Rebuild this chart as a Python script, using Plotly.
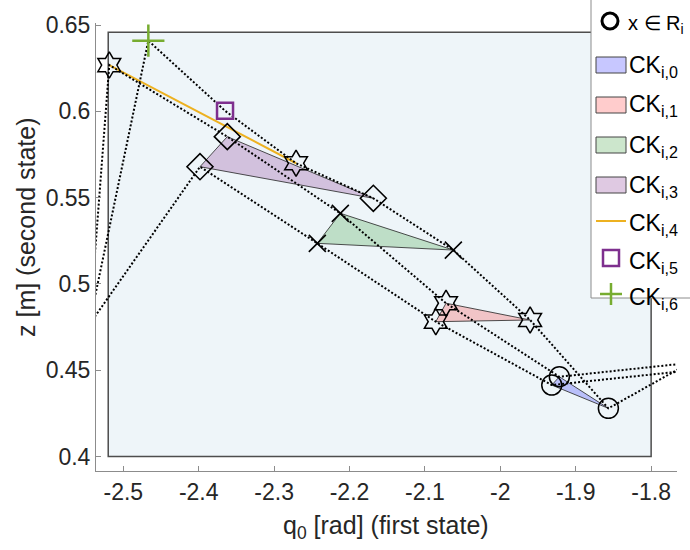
import plotly.graph_objects as go

# ---------------- data ----------------
# CK_{i,0}: states x in R_i (circles)
ck0_q = [-1.9217, -1.9318, -1.8567]
ck0_z = [0.4462, 0.4414, 0.4279]
# CK_{i,1} vertices (hexagrams)
ck1_q = [-2.0720, -2.0856, -1.9605]
ck1_z = [0.4888, 0.4781, 0.4791]
# CK_{i,2} vertices (x marks)
ck2_q = [-2.2122, -2.2427, -2.0623]
ck2_z = [0.5409, 0.5235, 0.5196]
# CK_{i,3} vertices (diamonds)
ck3_q = [-2.3621, -2.3983, -2.1684]
ck3_z = [0.5853, 0.5679, 0.5496]
# CK_{i,4} segment end points (hexagrams)
ck4_q = [-2.5186, -2.2709]
ck4_z = [0.6268, 0.5699]
# CK_{i,5} and CK_{i,6} single points
ck5_q = [-2.3651]
ck5_z = [0.6003]
ck6_q = [-2.4668]
ck6_z = [0.6409]

# dotted trajectories (first / last points lie outside the axes)
traj_a_q = [-2.55, -2.4668, -2.3651, -2.2709, -2.1684, -2.0623, -1.9605, -1.8567, -1.70]
traj_a_z = [0.4665, 0.6409, 0.6003, 0.5699, 0.5496, 0.5196, 0.4791, 0.4279, 0.4662]
traj_b_q = [-2.55, -2.5186, -2.3621, -2.2122, -2.0720, -1.9217, -1.70]
traj_b_z = [0.4460, 0.6268, 0.5853, 0.5409, 0.4888, 0.4462, 0.4565]
traj_c_q = [-2.55, -2.3983, -2.2427, -2.0856, -1.9318, -1.70]
traj_c_z = [0.4734, 0.5679, 0.5235, 0.4781, 0.4414, 0.4521]

# state-space box
box_q = [-2.52, -1.80]
box_z = [0.40, 0.6458]

# axes
x_range = [-2.53621, -1.76569]
y_range = [0.3916, 0.65116]
x_ticks = [-2.5, -2.4, -2.3, -2.2, -2.1, -2.0, -1.9, -1.8]
x_ticktext = ["-2.5", "-2.4", "-2.3", "-2.2", "-2.1", "-2", "-1.9", "-1.8"]
y_ticks = [0.4, 0.45, 0.5, 0.55, 0.6, 0.65]
y_ticktext = ["0.4", "0.45", "0.5", "0.55", "0.6", "0.65"]

legend_labels = ["x \u2208 R<sub>i</sub>", "CK<sub>i,0</sub>", "CK<sub>i,1</sub>", "CK<sub>i,2</sub>",
                 "CK<sub>i,3</sub>", "CK<sub>i,4</sub>", "CK<sub>i,5</sub>", "CK<sub>i,6</sub>"]

# ---------------- styling ----------------
FONT = "Liberation Sans, Arial, sans-serif"
W, H = 690, 550
ML, MR, MT, MB = 96, 13, 23, 79
PW, PH = W - ML - MR, H - MT - MB

fill_cols = ["rgba(0,0,255,0.22)", "rgba(255,0,0,0.2)", "rgba(0,128,0,0.2)", "rgba(128,40,140,0.25)"]
orange = "#EDB120"
purple = "#7E2F8E"
green = "#77AC30"


def px(xpix):
    return (xpix - ML) / PW


def py(ypix):
    return (MT + PH - ypix) / PH


fig = go.Figure()

# filled triangles
for qs, zs, col in [(ck0_q, ck0_z, fill_cols[0]), (ck1_q, ck1_z, fill_cols[1]),
                    (ck2_q, ck2_z, fill_cols[2]), (ck3_q, ck3_z, fill_cols[3])]:
    fig.add_trace(go.Scatter(x=qs + qs[:1], y=zs + zs[:1], mode="lines", fill="toself",
                             fillcolor=col, line=dict(color="#222222", width=0.8),
                             showlegend=False, hoverinfo="skip"))

# orange segment
fig.add_trace(go.Scatter(x=ck4_q, y=ck4_z, mode="lines", line=dict(color=orange, width=2),
                         showlegend=False))

# dotted trajectories
for qs, zs in [(traj_a_q, traj_a_z), (traj_b_q, traj_b_z), (traj_c_q, traj_c_z)]:
    fig.add_trace(go.Scatter(x=qs, y=zs, mode="lines",
                             line=dict(color="black", width=2, dash="2px,2px"),
                             showlegend=False))

# markers
fig.add_trace(go.Scatter(x=ck0_q, y=ck0_z, mode="markers", showlegend=False,
                         marker=dict(symbol="circle-open", size=20, color="black", line=dict(width=1.5))))
fig.add_trace(go.Scatter(x=ck1_q + ck4_q, y=ck1_z + ck4_z, mode="markers", showlegend=False,
                         marker=dict(symbol="hexagram-open", size=20, color="black", line=dict(width=1.5))))
fig.add_trace(go.Scatter(x=ck2_q, y=ck2_z, mode="markers", showlegend=False,
                         marker=dict(symbol="x-thin-open", size=17, color="black", line=dict(width=1.6))))
fig.add_trace(go.Scatter(x=ck3_q, y=ck3_z, mode="markers", showlegend=False,
                         marker=dict(symbol="diamond-open", size=20, color="black", line=dict(width=1.6))))
fig.add_trace(go.Scatter(x=ck5_q, y=ck5_z, mode="markers", showlegend=False,
                         marker=dict(symbol="square-open", size=16, color=purple, line=dict(width=2.5))))
fig.add_trace(go.Scatter(x=ck6_q, y=ck6_z, mode="markers", showlegend=False,
                         marker=dict(symbol="cross-thin-open", size=23, color=green, line=dict(width=2.5))))

shapes = [dict(type="rect", xref="x", yref="y", x0=box_q[0], x1=box_q[1], y0=box_z[0], y1=box_z[1],
               fillcolor="#EEF5F9", line=dict(color="#4d4d4d", width=1.5), layer="below")]

# ---- hand-built legend (MATLAB style) ----
shapes.append(dict(type="rect", xref="paper", yref="paper", x0=px(591), x1=px(700), y0=py(298), y1=py(-5),
                   fillcolor="white", line=dict(color="#8c8c8c", width=1), layer="above"))
row_y = [21, 62, 102, 142, 182, 221, 258, 294]
shapes.append(dict(type="circle", xref="paper", yref="paper", x0=px(602), x1=px(618),
                   y0=py(row_y[0] + 8), y1=py(row_y[0] - 8), line=dict(color="black", width=3), layer="above"))
for i in range(4):
    c = row_y[i + 1] + 3
    shapes.append(dict(type="rect", xref="paper", yref="paper", x0=px(596), x1=px(626),
                       y0=py(c + 8), y1=py(c - 8), fillcolor=fill_cols[i],
                       line=dict(color="#444444", width=1), layer="above"))
shapes.append(dict(type="line", xref="paper", yref="paper", x0=px(596), x1=px(626),
                   y0=py(row_y[5]), y1=py(row_y[5]), line=dict(color=orange, width=2), layer="above"))
shapes.append(dict(type="rect", xref="paper", yref="paper", x0=px(603), x1=px(619),
                   y0=py(row_y[6] + 8), y1=py(row_y[6] - 8), line=dict(color=purple, width=2.5), layer="above"))
shapes.append(dict(type="line", xref="paper", yref="paper", x0=px(600), x1=px(622),
                   y0=py(row_y[7]), y1=py(row_y[7]), line=dict(color=green, width=2.5), layer="above"))
shapes.append(dict(type="line", xref="paper", yref="paper", x0=px(611), x1=px(611),
                   y0=py(row_y[7] + 11), y1=py(row_y[7] - 11), line=dict(color=green, width=2.5), layer="above"))

annotations = []
for k, (lab, yy) in enumerate(zip(legend_labels, row_y)):
    annotations.append(dict(text=lab, xref="paper", yref="paper", x=px(626 if k == 0 else 627), y=py(yy + 4),
                            xanchor="left", yanchor="middle", showarrow=False,
                            font=dict(family=FONT, size=20 if k == 0 else 23, color="black")))

# axis titles
annotations.append(dict(text="q<sub>0</sub> [rad] (first state)", xref="paper", yref="paper",
                        x=px(386), y=py(527), xanchor="center", yanchor="middle", showarrow=False,
                        font=dict(family=FONT, size=25, color="#262626")))
annotations.append(dict(text="z [m] (second state)", xref="paper", yref="paper",
                        x=px(26), y=py(227), xanchor="center", yanchor="middle", showarrow=False,
                        textangle=-90, font=dict(family=FONT, size=25, color="#262626")))

axis_common = dict(showline=True, linecolor="#8c8c8c", linewidth=1, ticks="inside", ticklen=5,
                   tickcolor="#8c8c8c", showgrid=False, zeroline=False,
                   tickfont=dict(family=FONT, size=23, color="#262626"))

fig.update_layout(
    width=W, height=H,
    margin=dict(l=ML, r=MR, t=MT, b=MB, pad=0),
    paper_bgcolor="white", plot_bgcolor="white",
    xaxis=dict(range=x_range, tickvals=x_ticks, ticktext=x_ticktext, **axis_common),
    yaxis=dict(range=y_range, tickvals=y_ticks, ticktext=y_ticktext, **axis_common),
    shapes=shapes, annotations=annotations, showlegend=False,
)

fig.write_html("out.html")
